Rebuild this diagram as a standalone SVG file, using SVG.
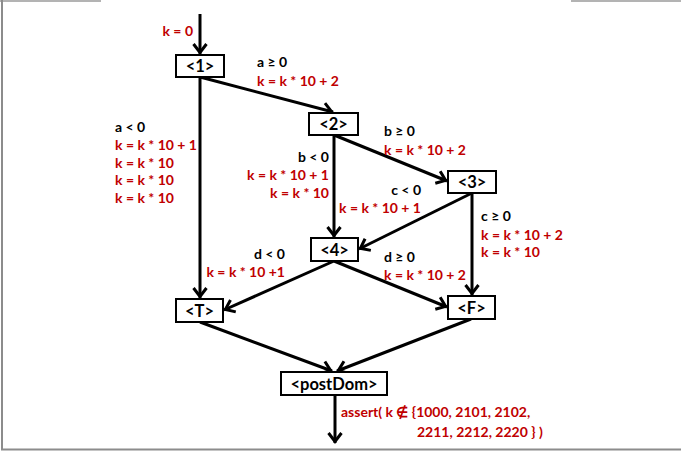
<svg xmlns="http://www.w3.org/2000/svg" width="681" height="453" viewBox="0 0 681 453">
<style>
.frame{stroke:#8c8c8c;stroke-width:2;fill:none}
.frameTop{stroke:#b3b3b3;stroke-width:2;fill:none}
.box{fill:#fff;stroke:#000;stroke-width:2}
.nl{font-family:Lato,"Liberation Sans",sans-serif;font-weight:bold;font-size:16.5px;fill:#000;text-anchor:middle}
.e{stroke:#000;stroke-width:3;fill:none;marker-end:url(#ah)}
.c{font-family:Lato,"Liberation Sans",sans-serif;font-weight:bold;font-size:14px;fill:#000}
.r{font-family:Lato,"Liberation Sans",sans-serif;font-weight:bold;font-size:14px;fill:#c00000}
.end{text-anchor:end}
</style>
<defs>
<marker id="ah" markerUnits="userSpaceOnUse" markerWidth="24" markerHeight="24" viewBox="-16 -12 24 24" refX="0" refY="0" orient="auto">
<path d="M-10,-6.5 L-1.5,0 L-10,6.5" fill="none" stroke="#000" stroke-width="3"/>
</marker>
</defs>
<g id="frame">
<line class="frameTop" x1="0" y1="1" x2="101" y2="1"/>
<line class="frameTop" x1="571" y1="1" x2="681" y2="1"/>
<line class="frame" x1="2" y1="0" x2="2" y2="450"/>
<line class="frame" x1="1" y1="449.5" x2="681" y2="449.5"/>
</g>
<g id="connectors">
<line class="e" x1="200" y1="14" x2="200" y2="54"/>
<line class="e" x1="200" y1="77" x2="333" y2="112"/>
<line class="e" x1="200" y1="77" x2="200" y2="298"/>
<line class="e" x1="334" y1="135" x2="334" y2="237"/>
<line class="e" x1="334" y1="135" x2="447" y2="181"/>
<line class="e" x1="472" y1="193" x2="359" y2="249"/>
<line class="e" x1="472" y1="193" x2="472" y2="295"/>
<line class="e" x1="334" y1="261" x2="224" y2="310"/>
<line class="e" x1="334" y1="261" x2="447" y2="307"/>
<line class="e" x1="200" y1="322" x2="332" y2="371"/>
<line class="e" x1="471" y1="319" x2="337" y2="371"/>
<line class="e" x1="335" y1="395" x2="335" y2="443"/>
</g>
<g id="labels">
<text class="r end" x="193" y="36">k = 0</text>
<text class="c" x="257" y="67">a ≥ 0</text>
<text class="r" x="257" y="86">k = k * 10 + 2</text>
<text class="c" x="115" y="132">a &lt; 0</text>
<text class="r" x="115" y="150">k = k * 10 + 1</text>
<text class="r" x="115" y="167.5">k = k * 10</text>
<text class="r" x="115" y="185">k = k * 10</text>
<text class="r" x="115" y="202.5">k = k * 10</text>
<text class="c end" x="329" y="162">b &lt; 0</text>
<text class="r end" x="329" y="180">k = k * 10 + 1</text>
<text class="r end" x="329" y="198">k = k * 10</text>
<text class="c" x="384" y="136">b ≥ 0</text>
<text class="r" x="384" y="155">k = k * 10 + 2</text>
<text class="c end" x="421" y="195">c &lt; 0</text>
<text class="r end" x="421" y="213">k = k * 10 + 1</text>
<text class="c" x="481" y="221">c ≥ 0</text>
<text class="r" x="481" y="239.5">k = k * 10 + 2</text>
<text class="r" x="481" y="257">k = k * 10</text>
<text class="c end" x="285" y="258.5">d &lt; 0</text>
<text class="r end" x="285" y="277">k = k * 10 +1</text>
<text class="c" x="384" y="262">d ≥ 0</text>
<text class="r" x="384" y="280">k = k * 10 + 2</text>
<text class="r" x="341" y="417">assert( k ∉ {1000, 2101, 2102,</text>
<text class="r" x="417" y="437">2211, 2212, 2220 } )</text>
</g>
<g id="n1"><rect class="box" x="176" y="55" width="48" height="22"/><text class="nl" x="200" y="72">&lt;1&gt;</text></g>
<g id="n2"><rect class="box" x="309" y="113" width="49" height="22"/><text class="nl" x="333.5" y="130">&lt;2&gt;</text></g>
<g id="n3"><rect class="box" x="448" y="171" width="48" height="22"/><text class="nl" x="472" y="188">&lt;3&gt;</text></g>
<g id="n4"><rect class="box" x="311" y="238" width="47" height="23"/><text class="nl" x="334.5" y="255.5">&lt;4&gt;</text></g>
<g id="nT"><rect class="box" x="176" y="299" width="47" height="23"/><text class="nl" x="199.5" y="316.5">&lt;T&gt;</text></g>
<g id="nF"><rect class="box" x="448" y="296" width="47" height="23"/><text class="nl" x="471.5" y="313.5">&lt;F&gt;</text></g>
<g id="nPost"><rect class="box" x="281" y="372" width="106" height="23"/><text class="nl" x="334" y="389.5">&lt;postDom&gt;</text></g>
</svg>
